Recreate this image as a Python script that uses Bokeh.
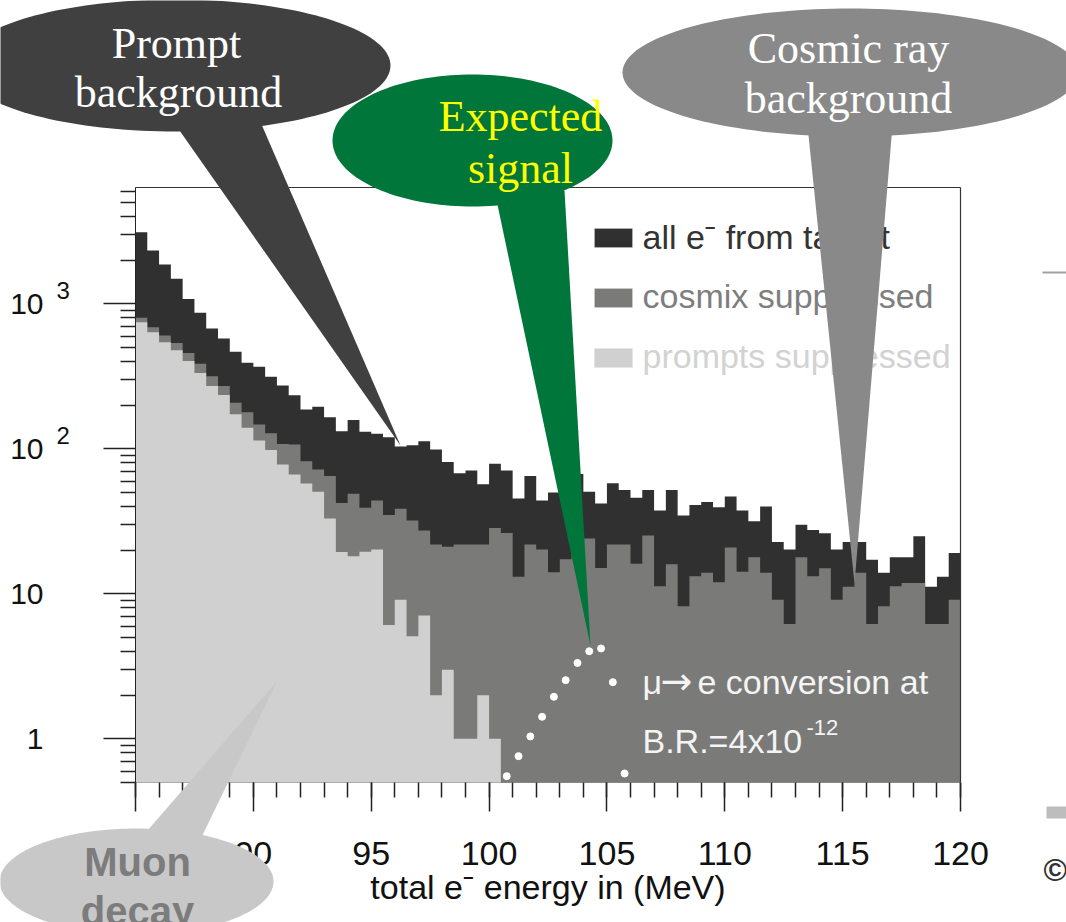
import numpy as np
from bokeh.plotting import figure
from bokeh.layouts import column
from bokeh.core.properties import value
from bokeh.models import (Range1d, FixedTicker, SingleIntervalTicker, Label,
                          BoxAnnotation, LinearAxis)
from bokeh.embed import file_html
from bokeh.resources import INLINE

# ---- histogram data: counts per 0.5 MeV bin, 85 -> 120 MeV ----
bin_width = 0.5
e_min, e_max = 85.0, 120.0

all_e = [3120, 2330, 1870, 1490, 1080, 867, 677, 577, 467, 392,
         368, 314, 274, 234, 187, 195, 165, 132, 158, 131,
         127, 120, 104, 106, 113, 99, 81, 68, 71, 57,
         79, 71, 45.5, 65, 44, 50, 54, 67, 50.5, 42,
         58, 52, 46, 52, 37.6, 52, 34.7, 41, 43, 39.6,
         47, 37.6, 31.7, 40, 22.8, 20.2, 30, 27.6, 26.2, 20.2,
         22.8, 22.8, 17.2, 14, 17.9, 17.9, 25, 11.2, 13.1, 19.1]

cosmix_suppressed = [801, 691, 605, 538, 459, 386, 317, 271, 208, 179,
                     147, 128, 108, 107, 82, 72, 65, 42.4, 49, 39.2,
                     44, 35, 38.7, 32, 27.4, 21.9, 21.1, 21.9, 21.9, 21.9,
                     28.5, 26.3, 13.1, 21.9, 20.2, 14.1, 17.3, 21, 24.1, 15.1,
                     21.9, 21.9, 16.1, 25.3, 11.3, 16, 8.2, 13.2, 14, 12,
                     20.9, 14.2, 17.9, 14, 9.1, 6.2, 17.9, 13.2, 15, 9.1,
                     11.2, 14, 6.2, 8.2, 11.3, 11.9, 11.9, 6.2, 6.2, 9.1]

prompts_suppressed = [748, 638, 544, 479, 403, 334, 271, 235, 173, 140,
                      114, 98, 78, 66.6, 57.7, 50.7, 33.1, 19.4, 18.2, 19.5,
                      20.2, 6.1, 9.1, 5.1, 7.1, 2, 3, 1, 1, 2,
                      1] + [0] * 39

# mu -> e conversion signal at B.R. = 4e-12
signal_energy = [100.75, 101.25, 101.75, 102.25, 102.75, 103.25,
                 103.75, 104.25, 104.75, 105.25, 105.75]
signal_counts = [0.553, 0.76, 1.04, 1.42, 1.95, 2.54,
                 3.34, 4.02, 4.2, 2.46, 0.577]

y_ticks = [1, 10, 100, 1000]
y_tick_text = {1: "1", 10: "10", 100: "10", 1000: "10"}
y_tick_powers = {100: "2", 1000: "3"}

y_min, y_max = 0.5, 6345

C_ALL, C_COSMIX, C_PROMPT = "#303030", "#7a7b79", "#d0d0d0"

# ---- canvas geometry ----
W, H = 1066, 922
FL, FR, FT, FB = 135, 960, 187, 782
LOG_LO, LOG_HI = np.log10(y_min), np.log10(y_max)


def to_data(cx, cy):
    """canvas pixel -> data coordinates of the main frame"""
    x = e_min + (cx - FL) / (FR - FL) * (e_max - e_min)
    y = 10 ** (LOG_LO + (FB - cy) / (FB - FT) * (LOG_HI - LOG_LO))
    return x, y


def to_canvas_y(v):
    return FB - (np.log10(v) - LOG_LO) / (LOG_HI - LOG_LO) * (FB - FT)


# ================= main histogram plot =================
p = figure(width=W, height=H, x_range=Range1d(e_min, e_max),
           y_range=Range1d(y_min, y_max), y_axis_type="log",
           output_backend="svg", toolbar_location=None,
           min_border_left=FL, min_border_right=W - FR,
           min_border_top=FT, min_border_bottom=H - FB,
           background_fill_color="white", border_fill_color="white")
p.grid.visible = False
p.outline_line_color = None
p.frame_align = False


def step_patch(values, color):
    """filled step histogram from per-bin counts"""
    base = 0.05
    v = np.asarray(values, dtype=float)
    v = np.where(v > 0, v, base)
    edges = e_min + bin_width * np.arange(len(v) + 1)
    xs = np.concatenate([[edges[0]], np.repeat(edges, 2)[1:-1], [edges[-1]]])
    ys = np.concatenate([[base], np.repeat(v, 2), [base]])
    return p.patch(xs, ys, fill_color=color, line_color=None)


step_patch(all_e, C_ALL)
step_patch(cosmix_suppressed, C_COSMIX)
step_patch(prompts_suppressed, C_PROMPT)

p.scatter(signal_energy, signal_counts, size=7, fill_color="white",
          line_color="white", marker="circle")

# ---- axes ----
xa = p.xaxis[0]
xa.ticker = SingleIntervalTicker(interval=5, num_minor_ticks=5)
xa.axis_line_color = None
xa.major_tick_out = 29
xa.minor_tick_out = 15
xa.major_label_standoff = 30
xa.major_label_text_font_size = "34px"
xa.axis_label = "total e\u02c9 energy in (MeV)"
xa.axis_label_text_font_size = "34px"
xa.axis_label_standoff = 0

ya = p.yaxis[0]
minor = [m * 10.0 ** k for k in range(-1, 4) for m in range(2, 10)]
ya.ticker = FixedTicker(ticks=y_ticks,
                        minor_ticks=[t for t in minor if y_min <= t <= y_max])
ya.major_label_overrides = y_tick_text
ya.axis_line_color = "#222222"
ya.major_tick_out = 32
ya.minor_tick_out = 15
ya.major_label_standoff = 60
ya.major_label_text_font_size = "30px"

for ax in (xa, ya):
    ax.major_tick_in = 0
    ax.minor_tick_in = 0
    ax.major_tick_line_color = "#222222"
    ax.minor_tick_line_color = "#222222"
    ax.major_tick_line_width = 1.5
    ax.minor_tick_line_width = 1.5
    ax.major_label_text_font = "Liberation Sans"
    ax.major_label_text_color = "#111111"
    ax.axis_label_text_font = "Liberation Sans"
    ax.axis_label_text_font_style = "normal"
    ax.axis_label_text_color = "#111111"

# frame border on the top and right sides
for side in ("above", "right"):
    border = LinearAxis(ticker=FixedTicker(ticks=[]), axis_line_color="#333333",
                        axis_line_width=1.2, major_tick_out=0, minor_tick_out=0)
    p.add_layout(border, side)


def label(cx, cy, s, size, color, font="Liberation Sans"):
    x, y = to_data(cx, cy)
    p.add_layout(Label(x=x, y=y, text=s, text_font=font,
                       text_font_size=f"{size}px", text_color=color,
                       text_align="left", text_baseline="middle"))


# ---- legend ----
legend_rows = [("all e\u02c9 from target", C_ALL, "#333333", 228, 236),
               ("cosmix suppressed", C_COSMIX, "#7e7e7e", 288, 295),
               ("prompts suppressed", C_PROMPT, "#d2d2d2", 348, 355)]
for text_, fill, tcolor, top, mid in legend_rows:
    x0, y0 = to_data(594, top + 19)
    x1, y1 = to_data(632, top)
    p.add_layout(BoxAnnotation(left=x0, right=x1, bottom=y0, top=y1,
                               fill_color=fill, fill_alpha=1.0,
                               line_color="#e0e0e0", line_width=1))
    label(642, mid, text_, 34, tcolor)

# signal annotation
SIG_TXT = "#f4f4f4"
label(642, 681, "\u03bc", 34, SIG_TXT)
label(660, 680, "\u2192", 38, SIG_TXT, font="DejaVu Sans")
label(697, 681, "e conversion at", 34, SIG_TXT)
label(642, 740, "B.R.=4x10", 34, SIG_TXT)
label(806, 727, "-12", 22, SIG_TXT)

# ================= callout overlay (whole canvas, pixel space) =================
q = figure(width=W, height=H, x_range=Range1d(0, W), y_range=Range1d(H, 0),
           output_backend="svg", toolbar_location=None, min_border=0,
           x_axis_type=None, y_axis_type=None,
           background_fill_color=None, border_fill_color=None,
           outline_line_color=None)
q.grid.visible = False
q.frame_align = False
q.margin = (-H, 0, 0, 0)


def ellipse_xy(cx, cy, a, b, n=160):
    t = np.linspace(0, 2 * np.pi, n, endpoint=False)
    return cx + a * np.cos(t), cy + b * np.sin(t)


def bubble(tail, center, axes, color):
    tx, ty = zip(*tail)
    q.patch(list(tx), list(ty), fill_color=color, line_color=None)
    ex, ey = ellipse_xy(*center, *axes)
    q.patch(ex, ey, fill_color=color, line_color=None)


def words(xs, ys, texts, size, color, font="Liberation Serif", style="normal",
          align="center"):
    q.text(x=xs, y=ys, text=texts, text_font=value(font),
           text_font_size=f"{size}px", text_color=color,
           text_font_style=style, text_align=align, text_baseline="middle")


bubble([(165, 110), (400, 445), (255, 110)], (175, 65), (215, 66), "#404040")
words([176, 178], [43, 92], ["Prompt", "background"], 44, "#ffffff")

bubble([(494, 190), (590, 645), (564, 190)], (472, 140), (140, 66), "#00763b")
words([520, 520], [116, 168], ["Expected", "signal"], 44, "#ffff00")

bubble([(807, 125), (854, 583), (892, 125)], (850, 72), (228, 64), "#898989")
words([848, 848], [48, 98], ["Cosmic ray", "background"], 44, "#ffffff")

bubble([(134, 845), (277, 680), (197, 845)], (136, 881), (137, 53), "#c8c8c8")
words([137, 137], [861, 910], ["Muon", "decay"], 40, "#7c7c7c",
      font="Liberation Sans", style="bold")

# decade exponents beside the y tick labels
pw_vals = list(y_tick_powers)
words([56] * len(pw_vals), [to_canvas_y(v) - 13 for v in pw_vals],
      [y_tick_powers[v] for v in pw_vals], 24, "#111111",
      font="Liberation Sans", align="left")

# fragments at the right edge
q.patch([1042, 1066, 1066, 1042], [271, 271, 273, 273], fill_color="#a0a0a0", line_color=None)
q.patch([1046, 1066, 1066, 1046], [806, 806, 818, 818], fill_color="#bdbdbd", line_color=None)
words([1043], [869], ["\u00a9"], 32, "#333333", font="Liberation Sans",
      style="bold", align="left")

root = column(p, q)
open("out.html", "w").write(file_html(root, INLINE))
